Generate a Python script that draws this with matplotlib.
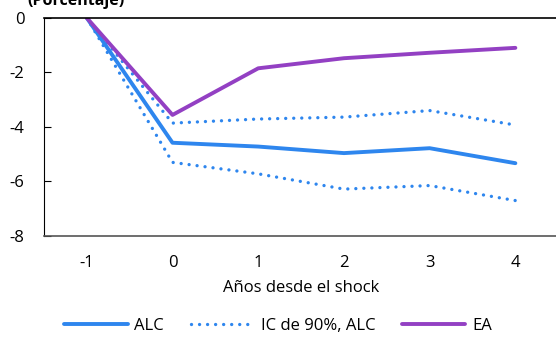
import matplotlib
matplotlib.use("Agg")
import matplotlib.pyplot as plt

plt.rcParams['font.family'] = ['Open Sans', 'DejaVu Sans']

years = [-1, 0, 1, 2, 3, 4]
alc = [0, -4.58, -4.72, -4.96, -4.78, -5.33]
alc_upper = [0, -3.86, -3.71, -3.64, -3.40, -3.93]
alc_lower = [0, -5.30, -5.72, -6.28, -6.15, -6.70]
ea = [0, -3.56, -1.85, -1.48, -1.28, -1.10]

blue = '#2e86ee'
purple = '#9340c3'
fs = 12

fig = plt.figure(figsize=(5.56, 3.37), dpi=100)
ax = fig.add_axes([0.079, 0.2997, 0.925, 0.6473])

ax.plot(years, alc, color=blue, lw=2.8, label='ALC', solid_capstyle='round')
dot = (0, (0.01, 2.4))
ax.plot(years, alc_upper, color=blue, lw=2.4, linestyle=dot, dash_capstyle='round',
        label='IC de 90%, ALC')
ax.plot(years, alc_lower, color=blue, lw=2.4, linestyle=dot, dash_capstyle='round')
ax.plot(years, ea, color=purple, lw=2.8, label='EA', solid_capstyle='round')

ax.set_xlim(-1.5, 4.5)
ax.set_ylim(-8, 0)
ax.set_xticks(years)
ax.set_xticklabels([str(y) for y in years])
ax.set_yticks([0, -2, -4, -6, -8])
ax.set_yticklabels(['0', '-2', '-4', '-6', '-8'])
ax.tick_params(axis='y', direction='in', length=5, width=0.8, pad=14, labelsize=fs)
ax.tick_params(axis='x', length=0, pad=14, labelsize=fs)
ax.spines['right'].set_visible(False)
ax.spines['top'].set_color('black')
ax.spines['top'].set_linewidth(1.2)
ax.spines['left'].set_color('black')
ax.spines['bottom'].set_color('#555555')
ax.spines['bottom'].set_linewidth(1.2)

ax.set_xlabel('Años desde el shock', fontsize=fs, labelpad=6)

fig.text(0.05, 0.998, '(Porcentaje)', fontsize=11.5, fontweight='bold', va='center', ha='left')

leg = fig.legend(loc='center', bbox_to_anchor=(0.5, 0.033), ncol=3, frameon=False,
                 fontsize=fs, handlelength=3.8, columnspacing=1.6, handletextpad=0.4)

fig.savefig('out.png', dpi=100)
